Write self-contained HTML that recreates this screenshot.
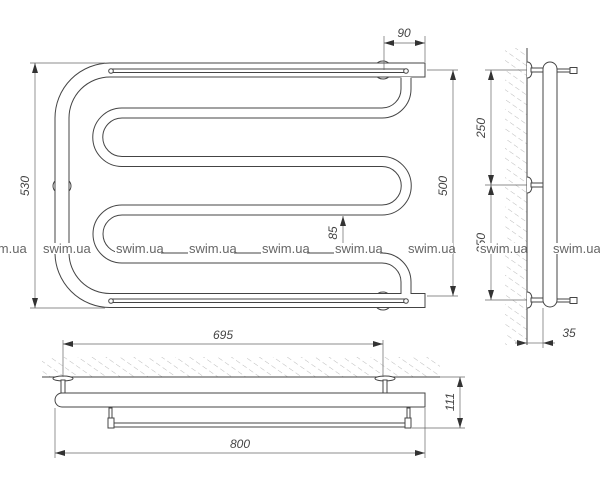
<!DOCTYPE html>
<html><head><meta charset="utf-8"><style>
html,body{margin:0;padding:0;background:#fff;}
svg{display:block;}
text{font-family:"Liberation Sans",sans-serif;font-style:italic;fill:#444;font-size:12px;}
.w{font-style:normal;fill:#666;font-size:13px;}
</style></head><body>
<svg width="600" height="499" viewBox="0 0 600 499" xmlns="http://www.w3.org/2000/svg">
<defs>
<marker id="a" markerWidth="10" markerHeight="6" refX="10" refY="3" orient="auto-start-reverse" markerUnits="userSpaceOnUse"><path d="M0,0 L10,3 L0,6 z" fill="#333"/></marker>
<pattern id="h" width="8" height="8" patternUnits="userSpaceOnUse" patternTransform="rotate(-55)"><line x1="0" y1="0" x2="0" y2="5" stroke="#aaa" stroke-width="0.8"/></pattern>
</defs>
<g fill="none" stroke="#444" stroke-width="1">
<ellipse cx="383" cy="70" rx="9" ry="9" fill="#fff"/>
<ellipse cx="383" cy="301" rx="9" ry="9" fill="#fff"/>
<ellipse cx="62" cy="186" rx="9" ry="8" fill="#fff"/>
<path d="M425,70 H110 A48,48 0 0 0 62,118 V252.5 A48,48 0 0 0 110,300.5 H425" stroke="#444" stroke-width="15"/>
<path d="M425,70 H110 A48,48 0 0 0 62,118 V252.5 A48,48 0 0 0 110,300.5 H425" stroke="#fff" stroke-width="13"/>
<line x1="425" y1="62.5" x2="425" y2="77.5"/>
<line x1="425" y1="293" x2="425" y2="308"/>
<path d="M406,78 V89 A24,24 0 0 1 382,113 H122 A24.25,24.25 0 0 0 122,161.5 H382 A24.25,24.25 0 0 1 382,210 H122 A24,24 0 0 0 122,258 H382 A24,24 0 0 1 406,282 V293" stroke="#444" stroke-width="11"/>
<path d="M406,77 V89 A24,24 0 0 1 382,113 H122 A24.25,24.25 0 0 0 122,161.5 H382 A24.25,24.25 0 0 1 382,210 H122 A24,24 0 0 0 122,258 H382 A24,24 0 0 1 406,282 V294" stroke="#fff" stroke-width="9"/>
<rect x="111" y="69" width="295" height="3.5" fill="#fff"/>
<rect x="111" y="299" width="295" height="3.5" fill="#fff"/>
<circle cx="111" cy="71" r="2.3" fill="#fff"/><circle cx="406" cy="71" r="2.3" fill="#fff"/>
<circle cx="111" cy="301" r="2.3" fill="#fff"/><circle cx="406" cy="301" r="2.3" fill="#fff"/>
</g>
<g stroke="#666" stroke-width="0.7" fill="none">
<line x1="30" y1="63" x2="105" y2="63"/><line x1="30" y1="308" x2="105" y2="308"/>
<line x1="35" y1="63" x2="35" y2="308" marker-start="url(#a)" marker-end="url(#a)"/>
<line x1="427" y1="70" x2="458" y2="70"/><line x1="427" y1="296" x2="458" y2="296"/>
<line x1="453" y1="70" x2="453" y2="296" marker-start="url(#a)" marker-end="url(#a)"/>
<line x1="384" y1="36" x2="384" y2="70"/><line x1="425" y1="36" x2="425" y2="62"/>
<line x1="384" y1="43" x2="425" y2="43" marker-start="url(#a)" marker-end="url(#a)"/>
<line x1="343" y1="253" x2="343" y2="216" marker-end="url(#a)"/>
</g>
<text transform="translate(29,186) rotate(-90)" text-anchor="middle">530</text>
<text transform="translate(447,186) rotate(-90)" text-anchor="middle">500</text>
<text x="404" y="37" text-anchor="middle">90</text>
<text transform="translate(337,233) rotate(-90)" text-anchor="middle">85</text>
<rect x="505" y="48" width="22" height="297" fill="url(#h)"/>
<g stroke="#444" stroke-width="1" fill="#fff">
<line x1="527" y1="48" x2="527" y2="345"/>
<g id="br">
<path d="M527,62 Q532,62 532,70 Q532,78 527,78"/>
<rect x="531" y="68" width="13" height="4"/>
</g>
<use href="#br" y="115"/><use href="#br" y="230"/>
<rect x="543" y="62" width="14" height="245" rx="7"/>
<line x1="557" y1="69" x2="570" y2="69"/><line x1="557" y1="72" x2="570" y2="72"/>
<rect x="570" y="67.5" width="7" height="6"/>
<line x1="557" y1="299" x2="570" y2="299"/><line x1="557" y1="302" x2="570" y2="302"/>
<rect x="570" y="297.5" width="7" height="6"/>
</g>
<g stroke="#666" stroke-width="0.7" fill="none">
<line x1="485" y1="70" x2="527" y2="70"/><line x1="485" y1="185" x2="527" y2="185"/><line x1="485" y1="300" x2="527" y2="300"/>
<line x1="491" y1="70" x2="491" y2="185" marker-start="url(#a)" marker-end="url(#a)"/>
<line x1="491" y1="185" x2="491" y2="300" marker-start="url(#a)" marker-end="url(#a)"/>
<line x1="543" y1="308" x2="543" y2="348"/>
<line x1="515" y1="343" x2="527" y2="343" marker-end="url(#a)"/>
<line x1="555" y1="343" x2="543" y2="343" marker-end="url(#a)"/>
<line x1="527" y1="343" x2="543" y2="343"/>
</g>
<text transform="translate(485,128) rotate(-90)" text-anchor="middle">250</text>
<text transform="translate(485,243) rotate(-90)" text-anchor="middle">350</text>
<text x="569" y="337" text-anchor="middle">35</text>
<rect x="42" y="357" width="398" height="20" fill="url(#h)"/>
<g stroke="#444" stroke-width="1" fill="#fff">
<line x1="42" y1="377" x2="440" y2="377"/>
<ellipse cx="63" cy="378.5" rx="10" ry="2.5"/><rect x="61" y="380" width="4" height="13"/>
<ellipse cx="385" cy="378.5" rx="10" ry="2.5"/><rect x="383" y="380" width="4" height="13"/>
<path d="M425,393 H62 A7,7 0 0 0 62,407 H425 Z"/>
<rect x="109" y="408" width="3" height="10"/><rect x="407" y="408" width="3" height="10"/>
<rect x="110" y="423" width="298" height="4"/>
<rect x="108" y="418" width="6" height="10"/><rect x="405" y="418" width="6" height="10"/>
</g>
<g stroke="#666" stroke-width="0.7" fill="none">
<line x1="63" y1="340" x2="63" y2="377"/><line x1="383" y1="340" x2="383" y2="377"/>
<line x1="63" y1="344" x2="383" y2="344" marker-start="url(#a)" marker-end="url(#a)"/>
<line x1="55" y1="408" x2="55" y2="458"/><line x1="425" y1="408" x2="425" y2="458"/>
<line x1="55" y1="453" x2="425" y2="453" marker-start="url(#a)" marker-end="url(#a)"/>
<line x1="440" y1="377" x2="465" y2="377"/><line x1="412" y1="428" x2="465" y2="428"/>
<line x1="460" y1="377" x2="460" y2="428" marker-start="url(#a)" marker-end="url(#a)"/>
</g>
<text x="223" y="339" text-anchor="middle">695</text>
<text x="240" y="448" text-anchor="middle">800</text>
<text transform="translate(454,402) rotate(-90)" text-anchor="middle">111</text>
<g fill="#fff">
<rect x="0" y="243" width="22" height="11"/>
<rect x="42" y="243" width="46" height="11"/><rect x="115" y="243" width="46" height="11"/>
<rect x="188" y="243" width="46" height="11"/><rect x="261" y="243" width="46" height="11"/>
<rect x="334" y="243" width="46" height="11"/><rect x="407" y="243" width="46" height="11"/>
<rect x="479" y="243" width="46" height="11"/><rect x="552" y="243" width="48" height="11"/>
</g>
<text class="w" x="-21" y="253">swim.ua</text>
<text class="w" x="43" y="253">swim.ua</text>
<text class="w" x="116" y="253">swim.ua</text>
<text class="w" x="189" y="253">swim.ua</text>
<text class="w" x="262" y="253">swim.ua</text>
<text class="w" x="335" y="253">swim.ua</text>
<text class="w" x="408" y="253">swim.ua</text>
<text class="w" x="480" y="253">swim.ua</text>
<text class="w" x="553" y="253">swim.ua</text>
</svg>
</body></html>
